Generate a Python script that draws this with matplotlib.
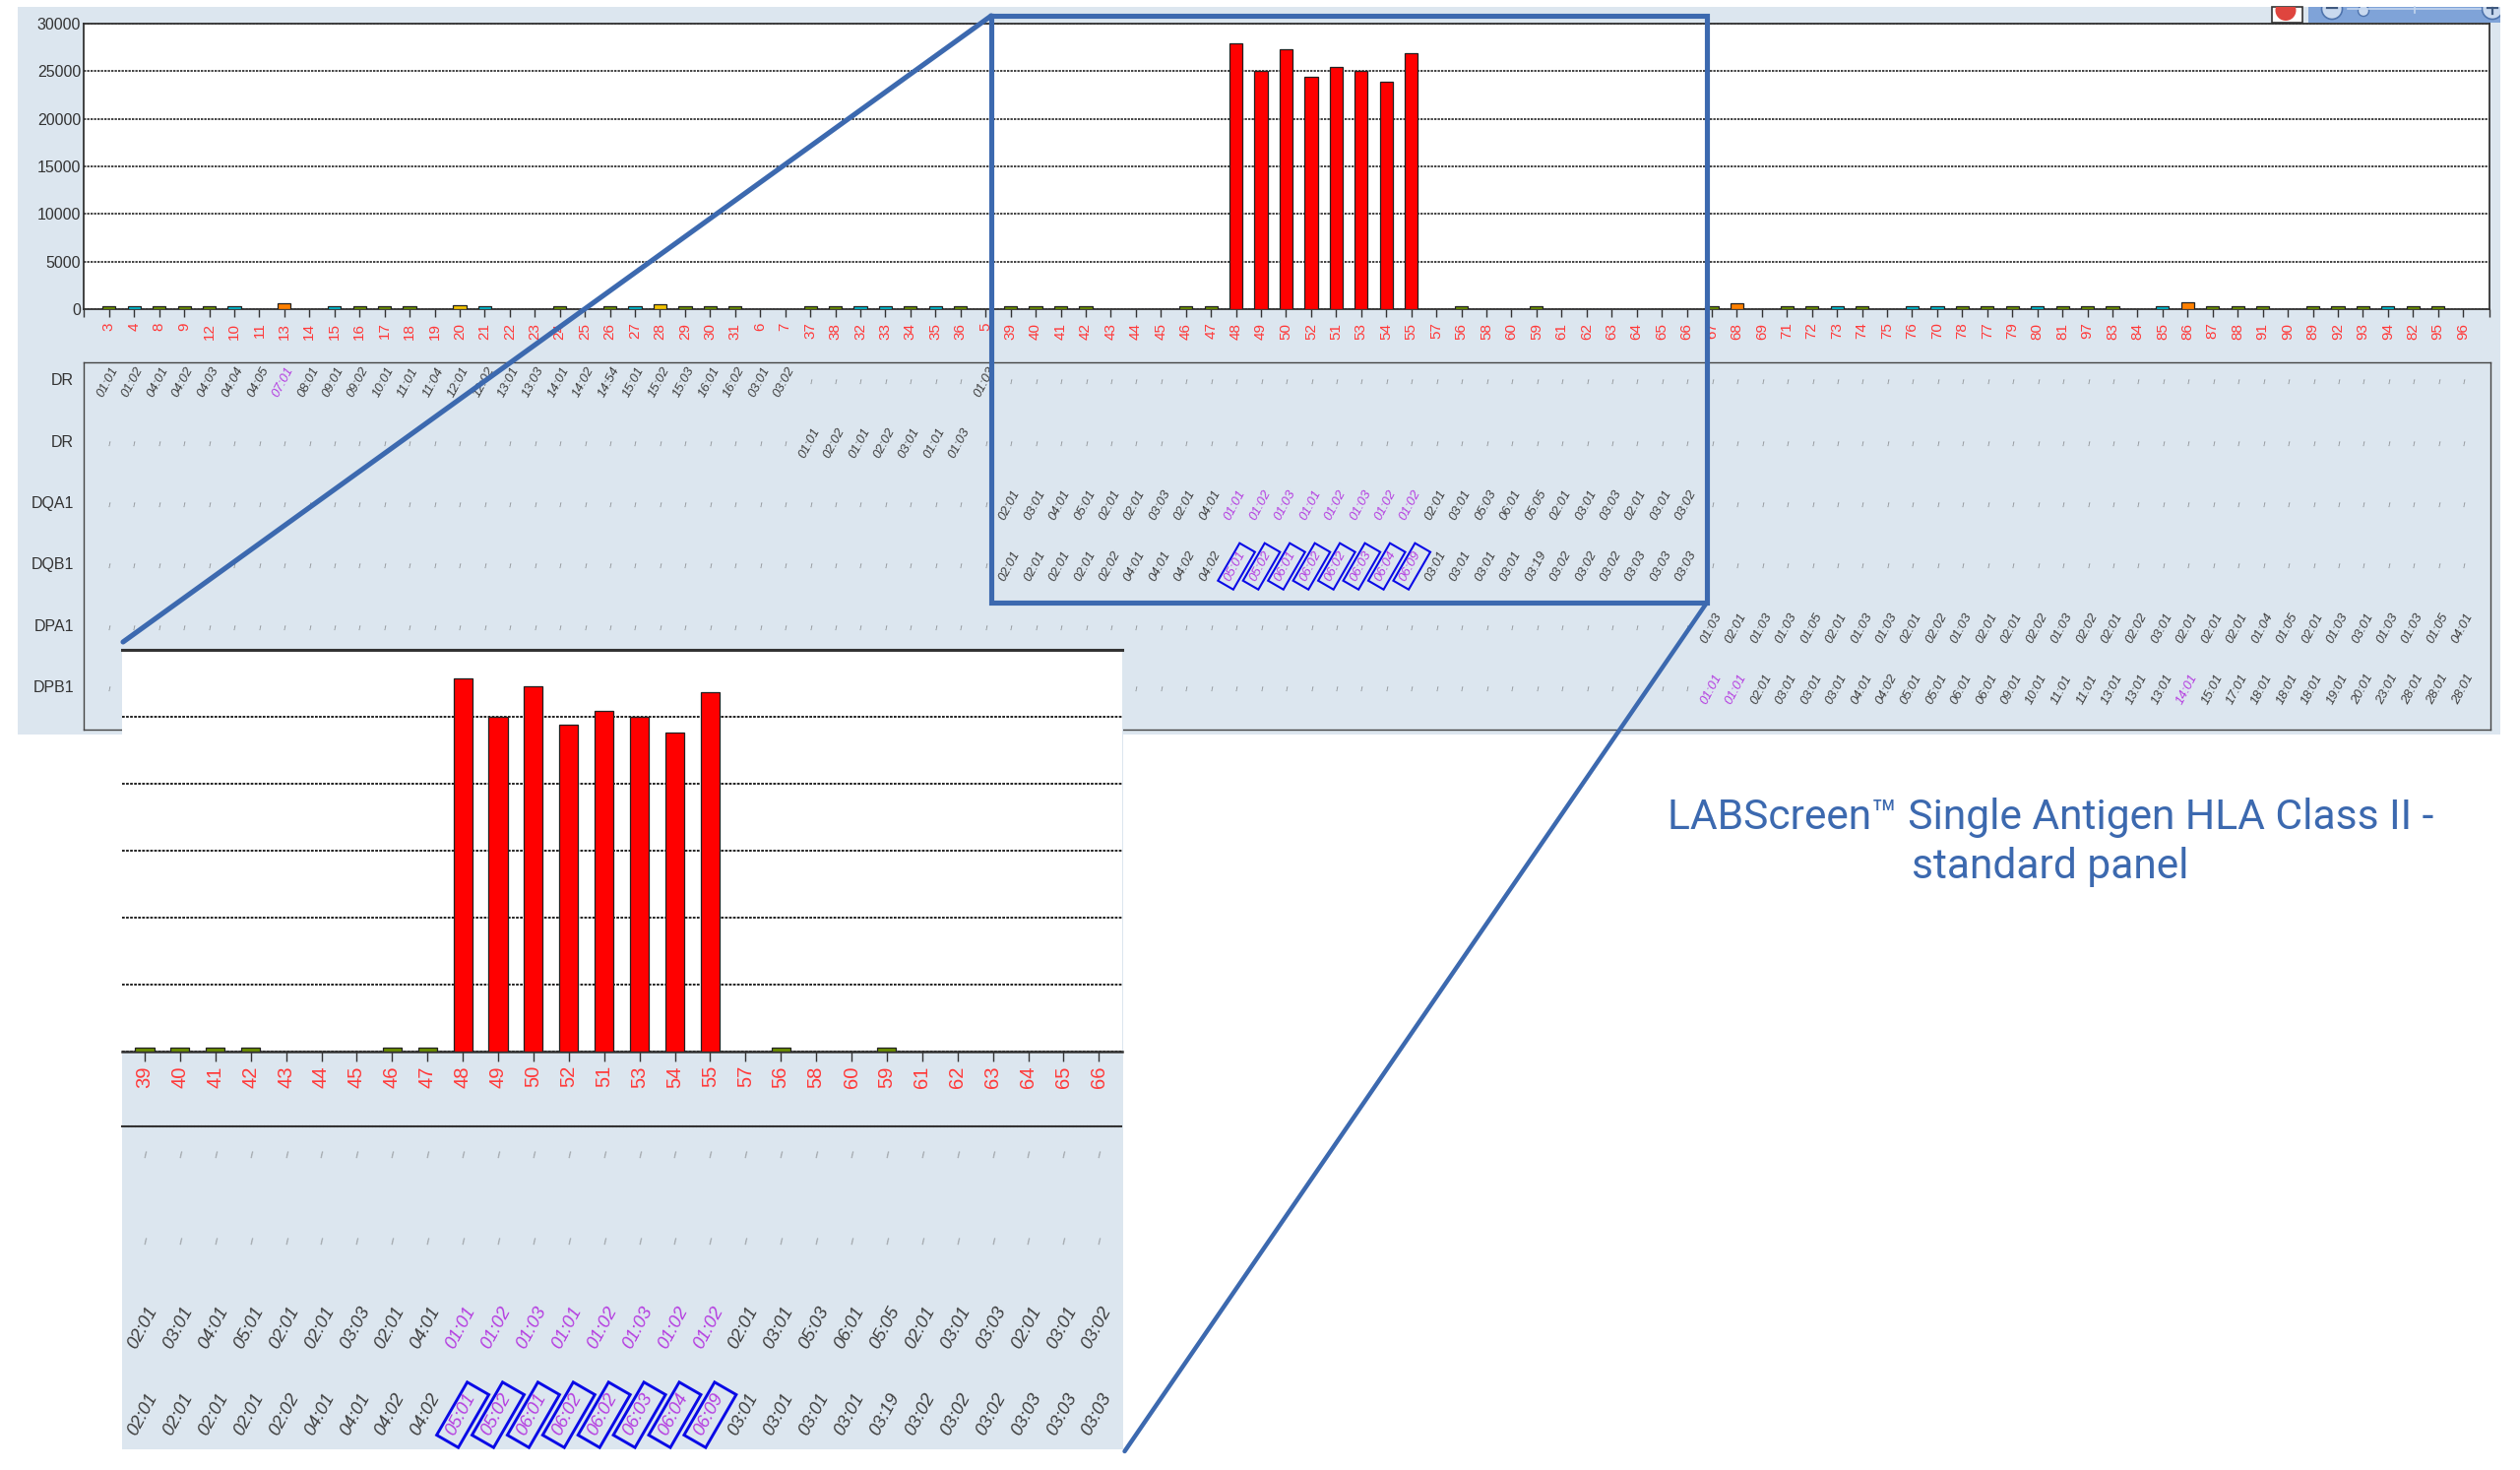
import matplotlib
matplotlib.use("Agg")
import matplotlib.pyplot as plt
from matplotlib.patches import Rectangle, Circle
from matplotlib.transforms import Affine2D

W, H = 2560, 1493

# ---------- data ----------
bead_ids = [3,4,8,9,12,10,11,13,14,15,16,17,18,19,20,21,22,23,24,25,26,27,28,29,30,31,6,7,37,38,
            32,33,34,35,36,5,39,40,41,42,43,44,45,46,47,48,49,50,52,51,53,54,55,57,56,58,60,59,61,62,
            63,64,65,66,67,68,69,71,72,73,74,75,76,70,78,77,79,80,81,97,83,84,85,86,87,88,91,90,89,92,
            93,94,82,95,96]
signal = [300,300,300,300,300,300,0,580,0,300,300,300,300,0,450,300,0,0,300,0,300,300,480,300,300,300,0,0,300,300,
          300,300,300,300,300,0,300,300,300,300,0,0,0,300,300,27900,25000,27300,24400,25450,25000,23850,26850,0,300,0,0,300,0,0,
          0,0,0,0,300,580,0,300,300,300,300,0,300,300,300,300,300,300,300,300,300,0,300,720,300,300,300,0,300,300,
          300,300,300,300,0]
bar_class = list("gtgggt-o-tggg-yt--g-gtyggg--gg"
                 "ttgtg-gggg---ggrrrrrrrr-g--g--"
                 "----go-ggtg-ttgggtggg-toggg-gg"
                 "gtgg-")
class_colors = {"g": "#6B8E00", "t": "#00BCD0", "y": "#F2C200", "o": "#FF8000", "r": "#FF0000"}

y_ticks = [0, 5000, 10000, 15000, 20000, 25000, 30000]
row_names = ["DR", "DR", "DQA1", "DQB1", "DPA1", "DPB1"]

dr1_alleles = ["01:01","01:02","04:01","04:02","04:03","04:04","04:05","07:01","08:01","09:01","09:02",
               "10:01","11:01","11:04","12:01","12:02","13:01","13:03","14:01","14:02","14:54","15:01",
               "15:02","15:03","16:01","16:02","03:01","03:02"]
dr2_alleles = ["01:01","02:02","01:01","02:02","03:01","01:01","01:03"]
dr1b_allele = ["01:03"]
dqa1_alleles = ["02:01","03:01","04:01","05:01","02:01","02:01","03:03","02:01","04:01",
                "01:01","01:02","01:03","01:01","01:02","01:03","01:02","01:02",
                "02:01","03:01","05:03","06:01","05:05","02:01","03:01","03:03","02:01","03:01","03:02"]
dqb1_alleles = ["02:01","02:01","02:01","02:01","02:02","04:01","04:01","04:02","04:02",
                "05:01","05:02","06:01","06:02","06:02","06:03","06:04","06:09",
                "03:01","03:01","03:01","03:01","03:19","03:02","03:02","03:02","03:03","03:03","03:03"]
dpa1_alleles = ["01:03","02:01","01:03","01:03","01:05","02:01","01:03","01:03","02:01","02:02","01:03",
                "02:01","02:01","02:02","01:03","02:02","02:01","02:02","03:01","02:01","02:01","02:01",
                "01:04","01:05","02:01","01:03","03:01","01:03","01:03","01:05","04:01"]
dpb1_alleles = ["01:01","01:01","02:01","03:01","03:01","03:01","04:01","04:02","05:01","05:01","06:01",
                "06:01","09:01","10:01","11:01","11:01","13:01","13:01","13:01","14:01","15:01","17:01",
                "18:01","18:01","18:01","19:01","20:01","23:01","28:01","28:01","28:01"]
empty = None
rows = [
    dr1_alleles + [empty]*7 + dr1b_allele + [empty]*59,
    [empty]*28 + dr2_alleles + [empty]*60,
    [empty]*36 + dqa1_alleles + [empty]*31,
    [empty]*36 + dqb1_alleles + [empty]*31,
    [empty]*64 + dpa1_alleles,
    [empty]*64 + dpb1_alleles,
]
purple_cells = {(0, 7), (5, 64), (5, 65), (5, 83)} | {(2, i) for i in range(45, 53)} | {(3, i) for i in range(45, 53)}
boxed_cells = {(3, i) for i in range(45, 53)}
zoom_first, zoom_last = 36, 63

# ---------- style ----------
PANEL = "#DCE6EF"
BLUE = "#3C69AF"
RED_TXT = "#FF3A3A"
PURPLE = "#B53FE0"
TXT = "#3E3E3E"
DARK = "#333333"
FONT = "Liberation Sans"
plt.rcParams["font.family"] = [FONT, "DejaVu Sans"]
GRID_DASH = (0, (1.4, 0.7))

fig = plt.figure(figsize=(W/100, H/100), dpi=100, facecolor="white")

def ax_px(l, t, r, b, z):
    a = fig.add_axes([l/W, 1 - b/H, (r-l)/W, (b-t)/H], zorder=z)
    a.patch.set_alpha(0)
    return a

def overlay(z):
    a = ax_px(0, 0, W, H, z)
    a.set_xlim(0, W); a.set_ylim(H, 0); a.axis("off")
    return a

# background panel + toolbar
bg = overlay(0)
bg.add_patch(Rectangle((18, 7), 2522, 739, fc=PANEL, ec="none"))
bg.add_patch(Rectangle((2307.5, 7), 31.5, 15.5, fc="white", ec=DARK, lw=1.2))
red_clip = Rectangle((2308, 7), 30, 15, transform=bg.transData)
dot = Circle((2322, 10.5), 10.5, fc="#DF453E", ec="none")
bg.add_patch(dot); dot.set_clip_path(red_clip)
bg.add_patch(Rectangle((2345, 7), 195, 16, fc="#7FA3D8", ec="none"))
bar_clip = Rectangle((2345, 7), 195, 16, transform=bg.transData)
bg.plot([2385, 2520], [9, 9], color="#C4D6EE", lw=1.2)
bg.plot([2453, 2453], [7, 13], color="#C4D6EE", lw=1.2)
for cx in (2369, 2532):
    c = Circle((cx, 9), 10.5, fc="#C9D9EF", ec="#4F74AD", lw=1.2)
    bg.add_patch(c); c.set_clip_path(bar_clip)
    ln, = bg.plot([cx-5, cx+5], [8, 8], color="#405A80", lw=1.6)
    ln.set_clip_path(bar_clip)
bg.plot([2532, 2532], [8, 14], color="#405A80", lw=1.6)
th = Circle((2401, 11), 5.5, fc="#C9D9EF", ec="#4F74AD", lw=1.0)
bg.add_patch(th); th.set_clip_path(bar_clip)


def draw_bars(ax, idx, width):
    ax.set_ylim(0, 30000)
    for k, i in enumerate(idx):
        if signal[i] > 0:
            ax.bar(k, signal[i], width=width, color=class_colors[bar_class[i]],
                   edgecolor="#222222", linewidth=0.9, zorder=3)


# main chart
x0, dx = 110.8, 25.44
main = ax_px(85, 24, 2529, 314, 1)
main.patch.set_alpha(1); main.set_facecolor("white")
all_idx = list(range(len(bead_ids)))
draw_bars(main, all_idx, 0.52)
xl = ((85-x0)/dx, (2529-x0)/dx)
main.set_xlim(*xl)
main.set_yticks(y_ticks)
main.set_yticklabels([str(v) for v in y_ticks], fontsize=11.5, color=DARK, family=FONT)
main.tick_params(axis="y", length=0, pad=2)
main.set_xticks(all_idx)
main.set_xticklabels([str(v) for v in bead_ids], rotation=90, fontsize=11, color=RED_TXT, va="top", ha="center")
main.tick_params(axis="x", length=5.8, width=1.0, color=DARK, pad=4)
main.set_xticks(list(xl), minor=True)
main.tick_params(axis="x", which="minor", length=5.8, width=1.0, color=DARK)
main.grid(axis="y", color="#222222", lw=1.2, linestyle=GRID_DASH, zorder=1)
main.set_axisbelow(True)
for s in main.spines.values():
    s.set_color(DARK); s.set_linewidth(1.3)


def draw_table(ax, row_list, idx_list, px_scale, font, dash_font):
    for r, row in row_list:
        for k, i in idx_list:
            lab = rows[r][i]
            if lab is None:
                ax.text(k, r_pos[r], "|", rotation=-13, fontsize=dash_font, color="#5A5A5A",
                        ha="center", va="center", family=FONT)
            else:
                col = PURPLE if (r, i) in purple_cells else TXT
                ax.text(k - 0.05, r_pos[r], lab, rotation=62, fontsize=font, style="italic", color=col,
                        ha="center", va="center", family=FONT)
                if (r, i) in boxed_cells:
                    cx, cy = ax.transData.transform((k, r_pos[r]))
                    L, B = 44*px_scale, 18*px_scale
                    tr = Affine2D().rotate_deg(60).translate(cx, cy)
                    ax.add_patch(Rectangle((-L/2, -B/2), L, B, fc="none", ec="#0A0AE6", lw=1.5*px_scale,
                                           transform=tr, clip_on=False))


# main table
tbl = ax_px(85, 368, 2530, 741, 1)
rp = 62.4
r_pos = list(range(6))
tbl.set_xlim(*xl)
tbl.set_ylim((741-388)/rp, (368-388)/rp)
tbl.set_xticks([]); tbl.set_yticks([])
for r, name in zip(r_pos, row_names):
    tbl.text(-0.004, r - 0.02, name, transform=tbl.get_yaxis_transform(), fontsize=11.5, color=DARK,
             ha="right", va="center")
for s in tbl.spines.values():
    s.set_color("#444444"); s.set_linewidth(1.0); s.set_linestyle((0, (1, 1)))
fig.canvas.draw()
draw_table(tbl, list(enumerate(rows)), [(i, i) for i in all_idx], 1.0, 9.5, 4.2)

# zoom inset
ins_bg = overlay(2)
ins_bg.add_patch(Rectangle((124, 658), 1016.5, 814, fc=PANEL, ec="none"))

zidx = list(range(zoom_first, zoom_last + 1))
z0, zdx = 147, 35.9
ins = ax_px(124, 660, 1140, 1068, 3)
ins.patch.set_alpha(1); ins.set_facecolor("white")
draw_bars(ins, zidx, 0.53)
ins.set_xlim((124-z0)/zdx, (1140-z0)/zdx)
ins.set_yticks(y_ticks)
ins.tick_params(axis="y", length=0, labelleft=False)
ins.set_xticks(range(len(zidx)))
ins.set_xticklabels([str(bead_ids[i]) for i in zidx], rotation=90, fontsize=14.5, color=RED_TXT, va="top", ha="center")
ins.tick_params(axis="x", length=7.2, width=1.0, color=DARK, pad=3)
ins.grid(axis="y", color="#222222", lw=1.4, linestyle=GRID_DASH, zorder=1)
ins.set_axisbelow(True)
ins.spines["left"].set_visible(False); ins.spines["right"].set_visible(False)
ins.spines["top"].set_color(DARK); ins.spines["top"].set_linewidth(2.2)
ins.spines["bottom"].set_color(DARK); ins.spines["bottom"].set_linewidth(1.8)

ins_t = ax_px(124, 1144, 1140, 1472, 3)
ins_t.set_xlim((124-z0)/zdx, (1140-z0)/zdx)
ins_t.set_ylim(0 + (1472-1173)/88, (1144-1173)/88)
ins_t.set_xticks([]); ins_t.set_yticks([])
for n in ("left", "right", "bottom"):
    ins_t.spines[n].set_visible(False)
ins_t.spines["top"].set_color("#333333"); ins_t.spines["top"].set_linewidth(1.5)
ins_t.spines["top"].set_linestyle((0, (1, 0.7)))
fig.canvas.draw()
draw_table(ins_t, list(enumerate(rows[:4])), [(k, i) for k, i in enumerate(zidx)], 1.41, 13.3, 5.5)

# connector frame
top = overlay(5)
top.plot([1007, 1734, 1734, 1007, 1007], [16, 16, 612, 612, 16], color=BLUE, lw=3.7, solid_joinstyle="miter")
top.plot([1007, 125], [16, 652], color=BLUE, lw=3.7, solid_capstyle="round")
top.plot([1734, 1142.5], [612, 1474], color=BLUE, lw=3.2, solid_capstyle="round")

# caption
top.text(2083, 842, "LABScreen\u2122 Single Antigen HLA Class II -", fontsize=30.6, color=BLUE, family="Roboto",
         ha="center", va="baseline")
top.text(2083, 892, "standard panel", fontsize=30.6, color=BLUE, family="Roboto", ha="center", va="baseline")

fig.savefig("out.png", dpi=100, facecolor="white")
